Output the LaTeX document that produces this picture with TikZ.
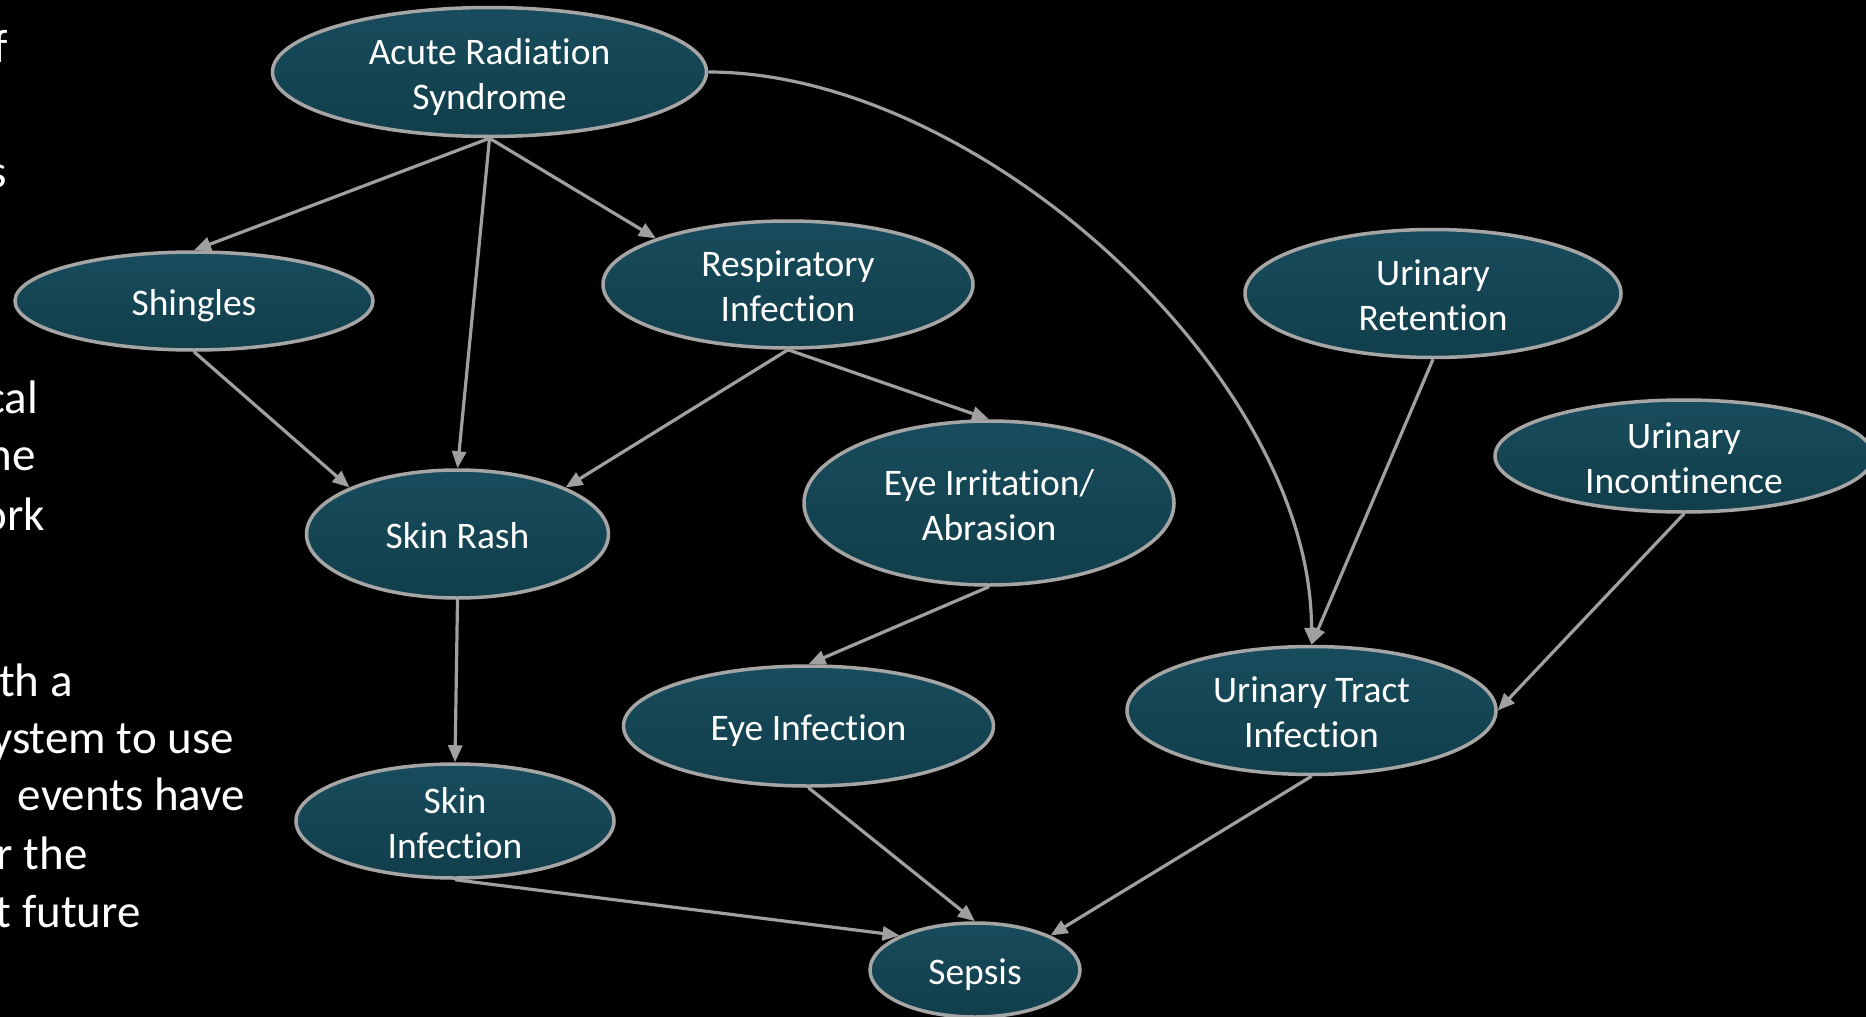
\documentclass[tikz,border=0pt]{standalone}
\usepackage{fontspec}
\setmainfont{Carlito}[Ligatures=NoCommon]
\usetikzlibrary{shapes.geometric,arrows.meta}
\definecolor{nodetop}{RGB}{24,76,92}
\definecolor{nodebot}{RGB}{17,62,75}
\definecolor{edgegray}{RGB}{160,160,160}
\definecolor{bordergray}{RGB}{165,165,165}
\newcommand{\ntext}[1]{\raisebox{-12pt}[0pt][0pt]{\begin{tabular}{@{}c@{}}#1\end{tabular}}}
\begin{document}
\begin{tikzpicture}[x=1pt,y=-1pt,
  dnode/.style={ellipse, draw=bordergray, line width=3.5pt, top color=nodetop, bottom color=nodebot,
    text=white, inner sep=0pt, font=\fontsize{37.5}{45}\selectfont},
  edge/.style={draw=edgegray, line width=3.2pt, -{Triangle[length=17pt,width=14pt]}},
  side/.style={anchor=base east, inner sep=0pt, text=white, font=\fontsize{47}{56}\selectfont}]
\fill[black] (0,0) rectangle (1866,1017);
\useasboundingbox (0,0) rectangle (1866,1017);
\clip (0,0) rectangle (1866,1017);

% side text, cut off at the left edge as in the reference
\node[side] (t1) at (8,62) {f};
\node[side] (t2) at (7,187) {s};
\node[side] (t3) at (38,413) {cal};
\node[side] (t4) at (36,470) {ne};
\node[side] (t5) at (45,530) {ork};
\node[side] (t6) at (73,696) {th a};
\node[side] (t7) at (234,753) {ystem to use};
\node[side] (t8) at (245,810) {events have};
\node[side] (t9) at (88,869) {r the};
\node[side] (t10) at (141,927) {t future};

% nodes
\node[dnode, minimum width=434pt, minimum height=129pt] (ars) at (489.5,72) {\ntext{Acute Radiation\\Syndrome}};
\node[dnode, minimum width=358pt, minimum height=98pt] (shingles) at (194,301) {\ntext{Shingles}};
\node[dnode, minimum width=370pt, minimum height=127pt] (resp) at (788,284.5) {\ntext{Respiratory\\Infection}};
\node[dnode, minimum width=376pt, minimum height=128pt] (uret) at (1433,293.5) {\ntext{Urinary\\Retention}};
\node[dnode, minimum width=378pt, minimum height=112pt] (uinc) at (1684,456) {\ntext{Urinary\\Incontinence}};
\node[dnode, minimum width=302pt, minimum height=128pt] (rash) at (457.5,534) {\ntext{Skin Rash}};
\node[dnode, minimum width=370pt, minimum height=164pt] (eyeirr) at (989,503) {\ntext{Eye Irritation/\\Abrasion}};
\node[dnode, minimum width=370pt, minimum height=120pt] (eyeinf) at (808.5,726) {\ntext{Eye Infection}};
\node[dnode, minimum width=369pt, minimum height=128pt] (uti) at (1311.5,710.5) {\ntext{Urinary Tract\\Infection}};
\node[dnode, minimum width=318pt, minimum height=114pt] (skininf) at (455,821) {\ntext{Skin\\Infection}};
\node[dnode, minimum width=210pt, minimum height=94pt] (sepsis) at (975,970) {\ntext{Sepsis}};

% edges
\draw[edge] (ars.south) -- (shingles.north);
\draw[edge] (ars.south) -- (rash.north);
\draw[edge] (ars.south) -- (resp.north west);
\draw[edge] (ars.east) .. controls +(270,0) and +(0,-270) .. (uti.north);
\draw[edge] (shingles.south) -- (rash.north west);
\draw[edge] (resp.south) -- (rash.north east);
\draw[edge] (resp.south) -- (eyeirr.north);
\draw[edge] (uret.south) -- (uti.north);
\draw[edge] (uinc.south) -- (uti.east);
\draw[edge] (rash.south) -- (skininf.north);
\draw[edge] (eyeirr.south) -- (eyeinf.north);
\draw[edge] (skininf.south) -- (sepsis.north west);
\draw[edge] (eyeinf.south) -- (sepsis.north);
\draw[edge] (uti.south) -- (sepsis.north east);
\end{tikzpicture}
\end{document}
